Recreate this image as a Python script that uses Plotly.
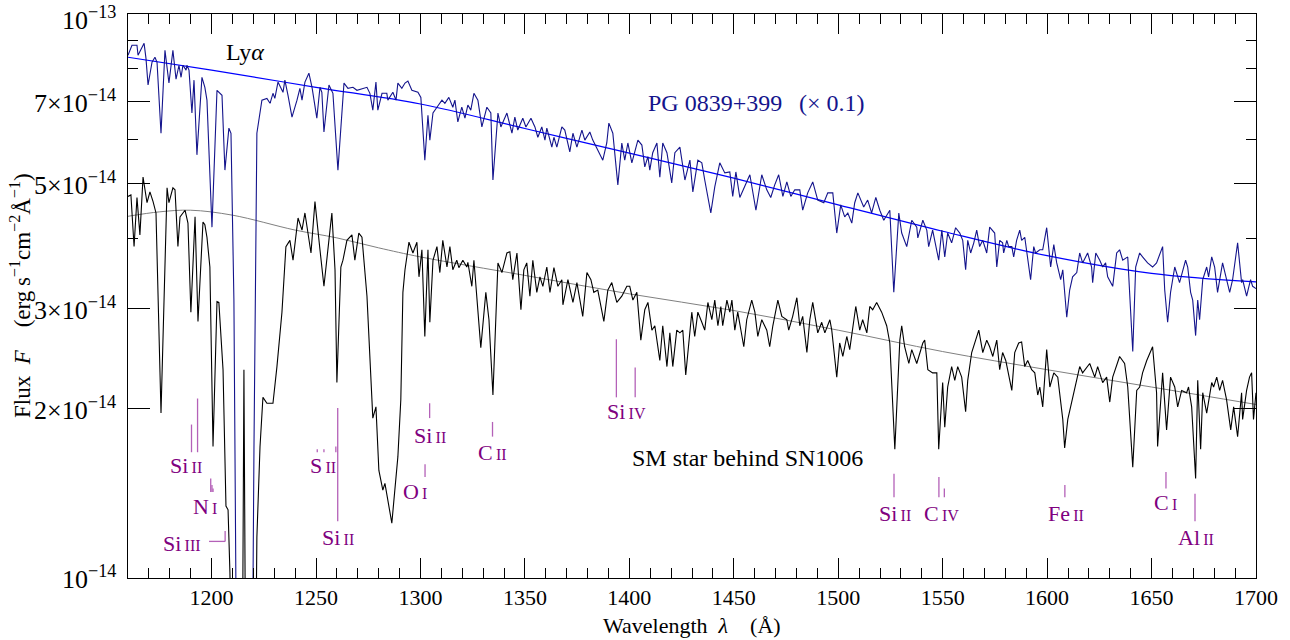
import numpy as np
import plotly.graph_objects as go

UNIT = 1e-14  # flux values below are in units of 1e-14 erg/s/cm2/A

# ---------------- data: PG 0839+399 (scaled x0.1) ----------------
pg_wl = [1160.0,1161.9,1164.3,1164.8,1167.7,1168.6,1169.6,1171.5,1172.9,1173.9,1175.8,1177.7,1179.6,1181.5,1183.0,1184.4,1185.4,1186.3,1187.8,1188.2,1189.2,1190.6,1191.6,1193.0,1195.4,1196.8,1197.8,1200.2,1202.6,1205.0,1206.4,1208.3,1209.3,1210.7,1212.2,1216.0,1219.3,1220.3,1221.7,1224.1,1226.5,1228.0,1229.4,1230.3,1231.8,1234.2,1235.1,1236.6,1238.5,1240.9,1242.3,1243.3,1244.7,1246.6,1248.1,1250.4,1251.9,1252.8,1253.8,1256.2,1258.1,1260.5,1263.4,1265.3,1267.7,1269.6,1272.5,1274.4,1275.8,1277.2,1278.7,1279.6,1281.6,1283.9,1284.4,1286.8,1288.3,1289.2,1291.1,1292.6,1294.0,1295.9,1298.8,1300.2,1302.1,1303.6,1304.5,1306.0,1307.9,1310.3,1311.7,1313.6,1315.5,1316.5,1317.9,1319.8,1321.3,1322.7,1324.1,1325.6,1327.5,1329.4,1331.8,1333.7,1334.7,1337.1,1338.5,1341.4,1343.8,1345.2,1346.6,1349.0,1350.5,1352.9,1354.8,1356.2,1358.1,1359.6,1360.5,1362.9,1363.9,1365.3,1367.7,1369.1,1371.5,1373.0,1374.9,1377.3,1378.7,1381.1,1382.5,1384.9,1387.3,1389.2,1390.2,1392.1,1394.5,1396.4,1397.8,1399.3,1401.2,1404.1,1406.0,1407.4,1408.9,1409.8,1411.2,1413.2,1414.6,1416.0,1418.0,1420.3,1421.8,1424.2,1426.6,1429.0,1430.4,1432.8,1434.7,1436.1,1439.0,1440.9,1443.3,1445.7,1448.1,1449.5,1451.0,1452.9,1455.3,1457.7,1460.6,1463.4,1465.8,1467.7,1469.6,1471.5,1473.5,1475.4,1477.3,1479.2,1481.6,1483.0,1485.4,1487.8,1490.2,1493.1,1495.0,1497.4,1499.3,1501.2,1503.1,1504.6,1506.5,1507.9,1509.4,1512.2,1514.1,1516.0,1518.0,1519.9,1521.8,1524.7,1526.6,1529.0,1530.4,1532.8,1535.2,1537.6,1538.1,1540.5,1542.4,1543.3,1545.2,1548.1,1549.6,1551.0,1552.4,1554.3,1556.2,1558.2,1559.6,1561.0,1562.0,1563.4,1564.9,1566.3,1567.7,1569.2,1571.1,1572.5,1574.9,1575.9,1577.3,1578.7,1579.2,1580.7,1581.6,1583.1,1584.0,1585.4,1586.9,1587.8,1589.3,1590.7,1592.1,1593.6,1594.5,1596.5,1597.9,1599.8,1601.7,1603.2,1604.6,1606.5,1607.5,1609.4,1610.8,1612.2,1614.2,1615.6,1617.0,1619.4,1621.3,1621.8,1623.3,1625.2,1626.6,1628.0,1629.0,1631.4,1633.3,1634.7,1636.2,1638.6,1641.0,1642.4,1644.3,1645.7,1648.1,1650.5,1652.4,1655.3,1656.3,1657.7,1659.1,1661.1,1662.5,1663.4,1666.3,1667.3,1668.7,1669.7,1671.1,1672.1,1673.0,1674.5,1676.4,1677.3,1678.8,1680.2,1681.6,1682.6,1684.0,1687.4,1688.8,1691.2,1693.1,1693.6,1695.5,1697.4,1698.4,1700.0]
pg_flux = [8.46,8.81,8.81,8.46,8.88,8.36,7.49,8.22,8.39,8.22,6.15,8.63,7.55,8.63,7.67,8.12,7.73,8.12,7.96,8.12,7.96,6.68,7.64,5.63,7.73,7.42,7.04,4.19,7.33,7.18,5.29,6.28,6.15,3.11,0.5,0.5,0.5,1.69,6.15,7.04,7.09,6.95,7.24,7.09,7.58,7.27,7.64,7.18,6.57,7.04,7.39,7.04,7.58,7.86,7.42,6.54,7.42,7.27,6.18,7.49,7.24,5.29,7.55,7.39,7.42,7.33,7.39,7.42,7.24,6.76,7.58,6.76,7.24,7.24,7.04,7.27,7.04,7.55,7.39,7.55,7.61,7.33,7.27,7.12,5.51,6.62,5.98,6.68,6.84,7.04,6.95,7.12,6.84,7.04,6.44,6.84,6.54,6.90,6.76,7.24,7.04,6.31,6.84,6.68,5.08,6.68,6.31,6.68,6.15,6.57,6.23,6.54,6.31,6.54,6.31,6.05,6.31,5.98,6.28,5.81,6.05,5.81,6.31,6.23,5.70,6.15,5.81,6.23,5.98,6.18,5.98,5.74,5.51,5.91,6.41,6.15,4.98,5.91,5.51,5.91,5.45,5.98,5.86,5.36,5.59,5.29,5.68,5.91,5.14,5.91,5.68,5.02,5.68,5.81,5.08,5.51,4.84,5.51,5.45,5.08,4.44,4.94,5.45,5.23,5.25,4.75,5.25,4.73,4.94,5.19,4.49,5.19,4.88,4.73,4.98,5.19,4.75,5.04,4.75,4.88,4.88,4.49,4.82,5.04,4.68,4.63,4.82,4.82,4.09,4.59,4.37,4.44,4.26,4.63,4.82,4.55,4.68,4.44,4.73,4.49,4.31,4.49,3.21,4.44,4.09,3.87,4.31,4.19,4.01,4.31,4.14,3.87,4.14,3.66,4.14,3.71,4.09,3.93,4.18,4.09,3.97,3.52,3.97,3.77,3.93,4.14,3.87,3.97,3.77,4.19,4.09,3.56,3.97,3.93,3.77,3.97,3.87,3.87,3.71,3.97,4.14,3.97,4.02,3.71,3.38,3.87,3.77,3.82,3.82,4.18,3.56,3.90,3.62,3.38,3.52,2.90,3.24,3.42,3.48,3.77,3.62,3.77,3.56,3.34,3.77,3.66,3.56,3.62,3.42,3.29,3.77,3.82,3.66,3.71,2.52,3.56,3.77,3.71,3.62,3.56,3.62,3.87,3.24,2.84,3.21,3.56,3.42,3.34,3.66,3.56,3.21,3.11,2.69,3.11,2.87,3.38,3.56,3.42,3.71,3.56,3.21,3.38,3.62,3.21,3.38,3.93,3.34,3.38,3.16,3.38,3.29,3.26]

# ---------------- data: SM star behind SN1006 ----------------
sm_wl = [1160.0,1161.4,1162.9,1164.3,1165.7,1167.2,1169.1,1170.5,1172.0,1173.4,1175.8,1178.7,1179.6,1181.5,1182.5,1183.9,1184.9,1186.3,1187.3,1188.7,1190.1,1192.1,1193.5,1195.9,1196.8,1197.8,1199.2,1200.7,1202.6,1203.5,1205.5,1206.9,1207.9,1208.8,1210.2,1214.6,1215.5,1216.5,1220.8,1221.7,1223.2,1224.6,1226.5,1228.0,1229.4,1231.3,1233.7,1235.6,1237.5,1239.0,1241.4,1243.3,1244.7,1247.6,1249.5,1251.9,1253.8,1256.7,1257.6,1259.1,1260.0,1261.9,1262.9,1264.8,1267.2,1268.6,1270.5,1272.0,1273.4,1274.4,1277.2,1278.7,1280.1,1282.0,1283.0,1284.4,1286.3,1289.2,1290.6,1291.6,1292.6,1294.5,1296.4,1298.3,1299.3,1300.7,1302.1,1303.6,1304.5,1306.0,1307.9,1309.3,1310.7,1312.7,1314.1,1315.5,1317.4,1318.4,1320.3,1322.2,1322.7,1324.6,1325.6,1328.9,1330.4,1331.3,1332.8,1334.7,1337.1,1339.0,1341.4,1342.8,1344.2,1346.2,1348.1,1349.5,1350.9,1352.4,1353.8,1355.7,1357.2,1358.6,1360.5,1362.0,1363.9,1365.8,1367.7,1368.2,1370.6,1373.0,1374.9,1377.7,1379.7,1381.6,1383.0,1384.9,1387.8,1389.7,1391.6,1394.0,1396.4,1398.8,1400.2,1401.7,1403.6,1405.5,1407.4,1408.9,1410.8,1412.2,1414.6,1416.0,1418.0,1419.4,1420.8,1422.7,1424.2,1425.6,1427.0,1429.9,1431.3,1432.8,1434.7,1436.1,1437.6,1439.5,1440.9,1442.4,1443.8,1444.7,1446.7,1448.1,1449.1,1450.5,1451.9,1454.8,1456.2,1458.6,1460.1,1461.5,1463.4,1465.8,1467.2,1468.7,1471.1,1473.0,1475.4,1476.3,1478.2,1480.2,1481.6,1483.0,1485.0,1486.4,1487.8,1490.2,1492.1,1493.6,1496.0,1496.9,1499.3,1500.7,1502.2,1504.1,1505.5,1507.0,1508.4,1510.3,1511.7,1513.7,1515.1,1516.5,1518.4,1520.8,1523.2,1524.7,1527.1,1529.5,1530.4,1531.8,1533.8,1535.2,1537.6,1540.5,1541.4,1542.9,1545.2,1547.2,1548.1,1550.0,1551.0,1552.4,1554.3,1555.8,1557.2,1559.1,1561.0,1562.0,1563.9,1567.3,1569.2,1571.1,1572.5,1574.0,1575.9,1577.3,1578.7,1580.2,1583.1,1584.5,1586.4,1587.8,1589.3,1590.7,1592.6,1594.1,1595.5,1596.5,1597.9,1599.8,1601.3,1603.2,1605.1,1607.5,1608.4,1609.9,1612.2,1614.2,1615.6,1617.0,1620.4,1622.8,1624.2,1626.6,1628.5,1630.0,1631.4,1634.7,1637.1,1638.6,1641.0,1642.9,1644.3,1645.7,1647.7,1650.5,1652.4,1652.9,1655.3,1657.2,1659.1,1661.1,1662.5,1664.4,1666.8,1667.7,1669.2,1671.1,1672.1,1673.5,1674.5,1676.4,1678.8,1679.7,1681.2,1682.6,1684.0,1685.9,1687.9,1689.3,1691.2,1693.1,1693.6,1695.5,1696.9,1697.9,1698.8,1700.0]
sm_flux = [4.75,4.78,3.87,4.73,4.06,5.14,4.63,4.84,4.65,4.44,1.96,4.92,4.63,4.92,4.88,3.87,4.37,4.44,4.49,4.26,2.96,4.37,2.85,4.28,4.23,4.02,3.56,1.71,3.09,3.08,2.34,1.34,1.32,1.02,0.5,0.5,2.34,0.5,0.5,1.18,1.71,2.09,2.04,2.04,2.04,2.37,2.96,3.87,3.97,3.66,4.35,4.14,4.44,3.77,4.65,3.82,3.29,4.14,4.44,3.52,2.22,3.56,3.66,3.97,4.06,3.66,4.09,4.02,3.48,3.16,1.92,2.01,1.55,1.43,1.47,1.37,1.25,1.64,2.07,3.21,3.52,3.94,3.77,3.94,3.42,3.82,2.68,3.82,2.84,3.66,3.87,3.48,3.97,3.56,3.87,3.52,3.66,3.55,3.66,3.56,3.63,3.29,3.66,2.56,2.96,3.21,2.87,2.11,3.62,3.48,3.77,3.79,3.38,3.77,2.99,3.52,3.62,3.16,3.66,3.21,3.42,3.29,3.56,3.21,3.55,3.29,3.38,3.05,3.38,3.08,3.34,2.91,3.48,3.38,3.21,3.24,2.85,3.24,3.34,3.08,3.16,3.29,3.29,3.11,3.21,2.64,2.99,3.08,2.75,2.80,2.43,2.80,2.37,2.72,2.37,2.75,2.72,2.75,2.29,2.96,2.68,2.96,2.84,2.75,3.08,2.87,3.11,2.80,3.03,2.80,3.11,2.96,3.11,2.75,2.96,2.57,2.87,3.11,2.96,2.68,2.87,2.75,2.57,2.80,3.11,2.91,2.87,2.75,2.91,3.14,2.80,2.91,2.51,2.87,3.08,2.72,2.84,2.72,2.87,2.75,2.27,2.61,2.47,2.68,2.54,2.80,3.03,2.75,2.87,2.72,3.03,2.99,3.08,2.96,2.80,2.61,1.69,2.64,2.80,2.57,2.40,2.54,2.40,2.61,2.64,2.34,2.31,2.31,1.69,2.22,1.85,2.18,2.37,2.24,2.37,2.27,1.97,2.24,2.51,2.75,2.51,2.64,2.57,2.47,2.64,2.34,2.51,2.43,2.15,2.51,2.61,2.62,2.37,2.43,2.34,2.31,2.11,2.18,2.01,2.54,2.18,2.31,2.27,1.91,1.70,1.91,2.09,2.27,2.37,2.31,2.40,2.27,2.37,2.22,2.27,2.05,2.27,2.47,2.40,2.18,1.57,2.15,2.18,2.31,2.43,2.57,2.13,1.71,2.31,1.83,2.27,2.18,2.01,2.15,2.13,2.18,2.01,1.50,2.24,1.69,2.13,1.96,2.22,2.18,2.27,2.15,2.24,2.07,1.83,2.01,1.78,2.13,1.91,2.15,2.27,2.31,1.91,2.13]

# ---------------- continuum fits ----------------
pg_cont_wl = [1160, 1200, 1250, 1300, 1350, 1400, 1450, 1500, 1550, 1600, 1650, 1700]
pg_cont_flux = [8.39, 7.96, 7.42, 6.93, 6.27, 5.67, 5.12, 4.59, 4.12, 3.73, 3.47, 3.35]
sm_cont_wl = [1160, 1175, 1190, 1210, 1240, 1260, 1280, 1300, 1350, 1400, 1450, 1500, 1550, 1600, 1650, 1700]
sm_cont_flux = [4.38, 4.46, 4.49, 4.40, 4.14, 4.01, 3.85, 3.71, 3.44, 3.19, 2.98, 2.75, 2.52, 2.34, 2.18, 2.03]

# ---------------- axes ----------------
x_major = [1200, 1250, 1300, 1350, 1400, 1450, 1500, 1550, 1600, 1650, 1700]
y_major = [1e-14, 2e-14, 3e-14, 5e-14, 7e-14, 1e-13]
y_labels = ["10<sup>\u221214</sup>", "2\u00d710<sup>\u221214</sup>", "3\u00d710<sup>\u221214</sup>",
            "5\u00d710<sup>\u221214</sup>", "7\u00d710<sup>\u221214</sup>", "10<sup>\u221213</sup>"]
y_minor = [4e-14, 6e-14, 8e-14, 9e-14]

# ---------------- line identifications ----------------
# tick marks: (wavelength, top flux, bottom flux) in 1e-14 units
line_ticks = [
    (1190.4, 1.87, 1.67), (1193.3, 2.08, 1.67),
    (1199.6, 1.50, 1.42), (1200.2, 1.46, 1.42), (1200.7, 1.44, 1.42),
    (1206.5, 1.21, 1.16),
    (1250.6, 1.69, 1.67), (1253.8, 1.69, 1.67), (1259.5, 1.71, 1.67),
    (1260.4, 2.00, 1.26),
    (1302.2, 1.59, 1.51), (1304.4, 2.04, 1.92),
    (1334.5, 1.89, 1.78),
    (1393.8, 2.65, 2.09), (1402.8, 2.36, 2.09),
    (1526.7, 1.53, 1.39),
    (1548.2, 1.51, 1.39), (1550.8, 1.44, 1.39),
    (1608.5, 1.46, 1.39),
    (1656.9, 1.54, 1.44),
    (1670.8, 1.41, 1.26),
]
siIII_leader = ([1198.8, 1206.5], [1.16, 1.16])

# labels: (element, ion stage, wavelength, flux)
line_labels = [
    ("Si", "II", 1187.8, 1.58), ("N", "I", 1197.0, 1.34), ("Si", "III", 1186.0, 1.15),
    ("S", "II", 1253.3, 1.58), ("Si", "II", 1260.5, 1.18), ("O", "I", 1297.3, 1.42),
    ("Si", "II", 1304.5, 1.79), ("C", "II", 1334.7, 1.67), ("Si", "IV", 1398.8, 1.97),
    ("Si", "II", 1527.1, 1.30), ("C", "IV", 1549.6, 1.30), ("Fe", "II", 1608.9, 1.30),
    ("C", "I", 1656.8, 1.36), ("Al", "II", 1671.1, 1.18),
]

FONT = "Liberation Serif, Times New Roman, serif"
PURPLE = "#800080"
PURPLE_TICK = "#b461b8"
NAVY = "#14148c"

fig = go.Figure()

fig.add_trace(go.Scatter(x=pg_cont_wl, y=[f * UNIT for f in pg_cont_flux], mode="lines",
                         line=dict(color="#0000ff", width=1.2, shape="spline"), hoverinfo="skip"))
fig.add_trace(go.Scatter(x=sm_cont_wl, y=[f * UNIT for f in sm_cont_flux], mode="lines",
                         line=dict(color="#808080", width=1, shape="spline"), hoverinfo="skip"))
fig.add_trace(go.Scatter(x=pg_wl, y=[f * UNIT for f in pg_flux], mode="lines",
                         line=dict(color=NAVY, width=1.1)))
fig.add_trace(go.Scatter(x=sm_wl, y=[f * UNIT for f in sm_flux], mode="lines",
                         line=dict(color="#000000", width=1.1)))

# tick marks for line identifications
tx, ty = [], []
for wl, top, bot in line_ticks:
    tx += [wl, wl, None]
    ty += [top * UNIT, bot * UNIT, None]
tx += siIII_leader[0] + [None]
ty += [v * UNIT for v in siIII_leader[1]] + [None]
fig.add_trace(go.Scatter(x=tx, y=ty, mode="lines", line=dict(color=PURPLE_TICK, width=1.3),
                         hoverinfo="skip", connectgaps=False))

annotations = []
for el, ion, wl, f in line_labels:
    annotations.append(dict(
        x=wl, y=np.log10(f * UNIT), xref="x", yref="y", showarrow=False,
        text=f"{el}<span style='font-size:16px'>\u2009{ion}</span>",
        font=dict(family=FONT, size=22, color=PURPLE), xanchor="center", yanchor="middle"))

annotations.append(dict(x=1216.0, y=np.log10(8.56 * UNIT), xref="x", yref="y", showarrow=False,
                        text="Ly<i>\u03b1</i>", font=dict(family=FONT, size=24, color="black")))
annotations.append(dict(x=1461.0, y=np.log10(6.95 * UNIT), xref="x", yref="y", showarrow=False,
                        text="PG 0839+399\u2002\u2009(\u00d7 0.1)", font=dict(family=FONT, size=24, color=NAVY)))
annotations.append(dict(x=1456.7, y=np.log10(1.63 * UNIT), xref="x", yref="y", showarrow=False,
                        text="SM star behind SN1006", font=dict(family=FONT, size=24, color="black")))

# y tick labels drawn as annotations so each can be positioned exactly
for val, lab in zip(y_major, y_labels):
    annotations.append(dict(x=-0.0089, y=np.log10(val), xref="paper", yref="y", showarrow=False,
                            xanchor="right", yanchor="middle", text=lab,
                            yshift=-4 if val == y_major[-1] else 0,
                            font=dict(family=FONT, size=26, color="black")))

# axis titles (placed in paper coordinates)
annotations.append(dict(x=0.5, y=-0.0835, xref="paper", yref="paper", showarrow=False,
                        xanchor="center", yanchor="middle",
                        text="Wavelength\u2002<i>\u03bb</i>\u2003(\u00c5)",
                        font=dict(family=FONT, size=22, color="black")))
annotations.append(dict(x=-0.0957, y=0.5, xref="paper", yref="paper", showarrow=False,
                        xanchor="center", yanchor="middle", textangle=-90,
                        text="Flux\u2002<i>F</i>\u2003(erg\u2009s<sup>\u22121</sup>cm<sup>\u22122</sup>\u00c5<sup>\u22121</sup>)",
                        font=dict(family=FONT, size=23, color="black")))

fig.update_layout(
    width=1290, height=640,
    margin=dict(l=128, r=34, t=14, b=62, autoexpand=False),
    paper_bgcolor="white", plot_bgcolor="white",
    showlegend=False,
    font=dict(family=FONT, size=22, color="black"),
    annotations=annotations,
    xaxis=dict(
        range=[1160, 1700], tickvals=x_major, ticktext=[str(v) for v in x_major],
        ticks="inside", ticklen=20, tickwidth=1, tickcolor="black",
        minor=dict(dtick=10, tick0=1160, ticks="inside", ticklen=10, tickcolor="black", tickwidth=1),
        showline=True, linecolor="black", linewidth=1, mirror="allticks",
        showgrid=False, zeroline=False, automargin=False,
        tickfont=dict(family=FONT, size=22), ticklabeloverflow="allow",
    ),
    yaxis=dict(
        type="log", range=[-14.0005, -12.9995], tickvals=y_major, showticklabels=False,
        ticks="inside", ticklen=22, tickwidth=1, tickcolor="black",
        minor=dict(tickvals=y_minor, ticks="inside", ticklen=10, tickcolor="black", tickwidth=1),
        showline=True, linecolor="black", linewidth=1, mirror="allticks",
        showgrid=False, zeroline=False, automargin=False,
    ),
)

# remove the page's default 8px body margin so the figure fills the window exactly
fig.write_html("out.html", config={"displayModeBar": False, "staticPlot": True},
               post_script="document.body.style.margin='0';")
